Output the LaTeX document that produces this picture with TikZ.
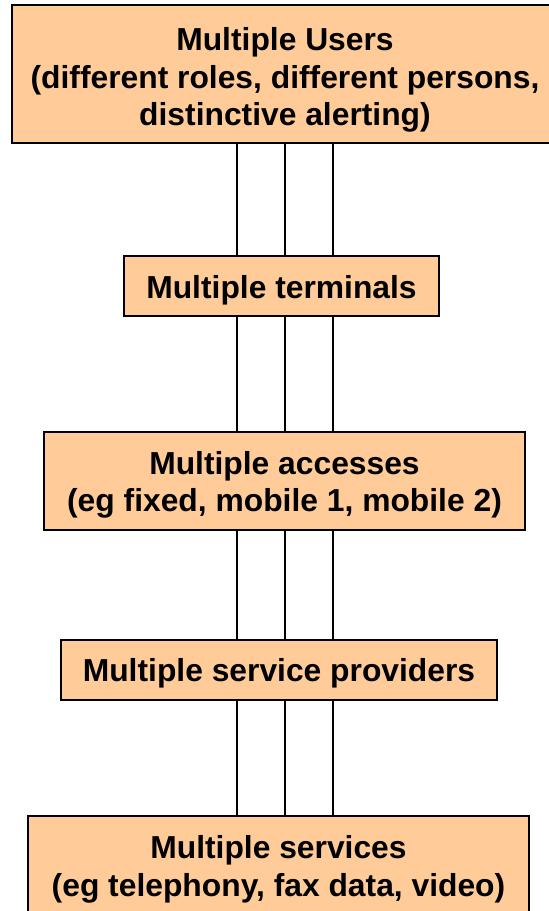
\documentclass[tikz,border=0pt]{standalone}
\usepackage{fontspec}
\setmainfont{Liberation Sans}
\definecolor{boxfill}{HTML}{FFCC99}
\tikzset{
  box/.style={draw=black, line width=1.6pt, fill=boxfill, inner sep=0pt},
  label text/.style={inner sep=0pt, align=center,
    font=\fontsize{31.8}{37.5}\selectfont\bfseries},
  link/.style={draw=black, line width=1.3pt}
}
\begin{document}
\begin{tikzpicture}[x=1pt,y=-1pt]
\useasboundingbox (0,0) rectangle (549,911);
\node[box, minimum width=546pt, minimum height=138pt] (users) at (285,74) {};
\node[label text] (usersT) at (285,80)
  {Multiple Users\\(different roles, different persons,\\distinctive alerting)};
\node[box, minimum width=315pt, minimum height=60pt] (terms) at (281.5,286) {};
\node[label text] (termsT) at (281.5,290) {Multiple terminals};
\node[box, minimum width=481pt, minimum height=98pt] (acc) at (284.5,481) {};
\node[label text] (accT) at (284.5,485)
  {Multiple accesses\\(eg fixed, mobile 1, mobile 2)};
\node[box, minimum width=436pt, minimum height=60pt] (prov) at (279,670) {};
\node[label text] (provT) at (279,673.5) {Multiple service providers};
\node[box, minimum width=501pt, minimum height=100pt] (serv) at (278.5,866) {};
\node[label text] (servT) at (278.5,869.5)
  {Multiple services\\(eg telephony, fax data, video)};
\foreach \x in {237,285,333}{
  \draw[link] (users.south -| \x,0) -- (terms.north -| \x,0);
  \draw[link] (terms.south -| \x,0) -- (acc.north -| \x,0);
  \draw[link] (acc.south -| \x,0) -- (prov.north -| \x,0);
  \draw[link] (prov.south -| \x,0) -- (serv.north -| \x,0);
}
\end{tikzpicture}
\end{document}
